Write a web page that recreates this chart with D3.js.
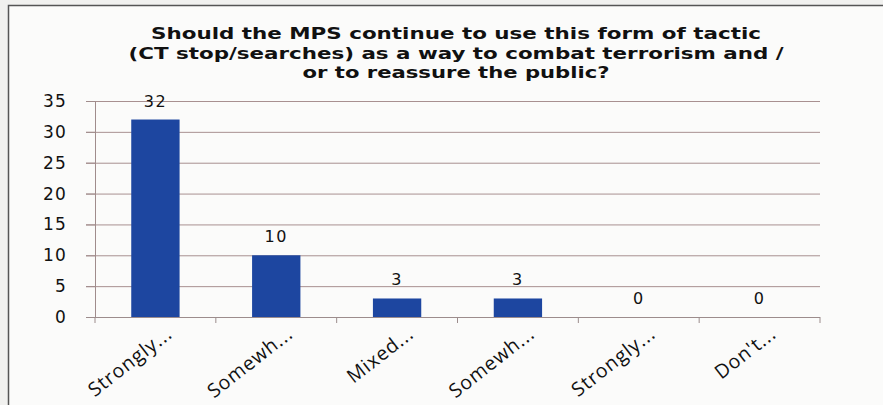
<!DOCTYPE html>
<html><head><meta charset="utf-8">
<script src="https://cdn.jsdelivr.net/npm/d3@7"></script>
<style>
html,body{margin:0;padding:0;background:#f2f2f0;}
svg{display:block;}
</style></head>
<body><svg id="c" width="883" height="405"></svg>
<script>
const categories = ["Strongly...", "Somewh...", "Mixed...", "Somewh...", "Strongly...", "Don't..."];
const values = [32, 10, 3, 3, 0, 0];
const yTicks = [0, 5, 10, 15, 20, 25, 30, 35];
const titleLines = ["Should the MPS continue to use this form of tactic",
  "(CT stop/searches) as a way to combat terrorism and /",
  "or to reassure the public?"];
const titleWidths = [610, 655, 307];

const svg = d3.select("#c");
const W = 883, H = 405;
const m = {left: 95, right: 63, top: 101, bottom: 88};

// frame
svg.append("rect").attr("x", 0).attr("y", 0).attr("width", W).attr("height", H).attr("fill", "#f1f1ef");
svg.append("rect").attr("x", 8.5).attr("y", 5.5).attr("width", W + 10).attr("height", H + 10)
  .attr("fill", "#fbfbfa").attr("stroke", "#555").attr("stroke-width", 1.5);

const x = d3.scaleBand().domain(d3.range(categories.length)).range([m.left, W - m.right]).paddingInner(0.6).paddingOuter(0.3);
const xb = d3.scaleBand().domain(d3.range(categories.length)).range([m.left, W - m.right]);
const y = d3.scaleLinear().domain([0, 35]).range([H - m.bottom, m.top]);

// title
const tg = svg.append("g")
  .attr("font-family", "DejaVu Sans, Verdana, sans-serif").attr("font-weight", "bold")
  .attr("font-size", 16.5).attr("fill", "#111");
titleLines.forEach((l, i) => tg.append("text").attr("text-anchor", "middle")
  .attr("x", 456).attr("y", 39 + i * 19.5)
  .attr("textLength", titleWidths[i]).attr("lengthAdjust", "spacingAndGlyphs").text(l));

// gridlines
svg.append("g").selectAll("line").data(yTicks.filter(d => d > 0)).join("line")
  .attr("x1", m.left - 9).attr("x2", W - m.right)
  .attr("y1", d => y(d) + 0.5).attr("y2", d => y(d) + 0.5)
  .attr("stroke", "#a89090").attr("stroke-width", 1);

// y axis
const ya = svg.append("g").attr("transform", `translate(${m.left},0)`)
  .call(d3.axisLeft(y).tickValues(yTicks).tickSize(9).tickPadding(19));
ya.select(".domain").attr("stroke", "#a08c8c");
ya.selectAll(".tick line").attr("stroke", "#a08c8c");
ya.selectAll("text").attr("font-family", "DejaVu Sans, Verdana, sans-serif").attr("font-size", 17)
  .attr("letter-spacing", 1.2).attr("fill", "#111");

// bars
svg.append("g").selectAll("rect").data(values).join("rect")
  .attr("x", (d, i) => x(i)).attr("width", x.bandwidth())
  .attr("y", d => y(d)).attr("height", d => y(0) - y(d))
  .attr("fill", "#1d46a0");

// value labels
svg.append("g").selectAll("text").data(values).join("text")
  .attr("x", (d, i) => x(i) + x.bandwidth() / 2).attr("y", d => y(d) - 13)
  .attr("text-anchor", "middle").attr("font-family", "DejaVu Sans, Verdana, sans-serif")
  .attr("font-size", 16).attr("letter-spacing", 1.5).attr("fill", "#111").text(d => d);

// x axis
const xa = svg.append("g").attr("transform", `translate(0,${y(0)})`);
xa.append("line").attr("x1", m.left - 9).attr("x2", W - m.right).attr("y1", 0.5).attr("y2", 0.5).attr("stroke", "#9c8c8c");
xa.selectAll(".tk").data(d3.range(categories.length + 1)).join("line").attr("class", "tk")
  .attr("x1", i => m.left + i * xb.bandwidth()).attr("x2", i => m.left + i * xb.bandwidth())
  .attr("y1", 0).attr("y2", 6).attr("stroke", "#9c8c8c");
xa.selectAll("text").data(categories).join("text")
  .attr("transform", (d, i) => `translate(${xb(i) + xb.bandwidth() / 2 + 18},19) rotate(-38)`)
  .attr("text-anchor", "end")
  .attr("font-family", "Open Sans, Lato, sans-serif").attr("font-size", 19.5).attr("letter-spacing", 0.9)
  .attr("fill", "#111")
  .text(d => d);
</script></body></html>
